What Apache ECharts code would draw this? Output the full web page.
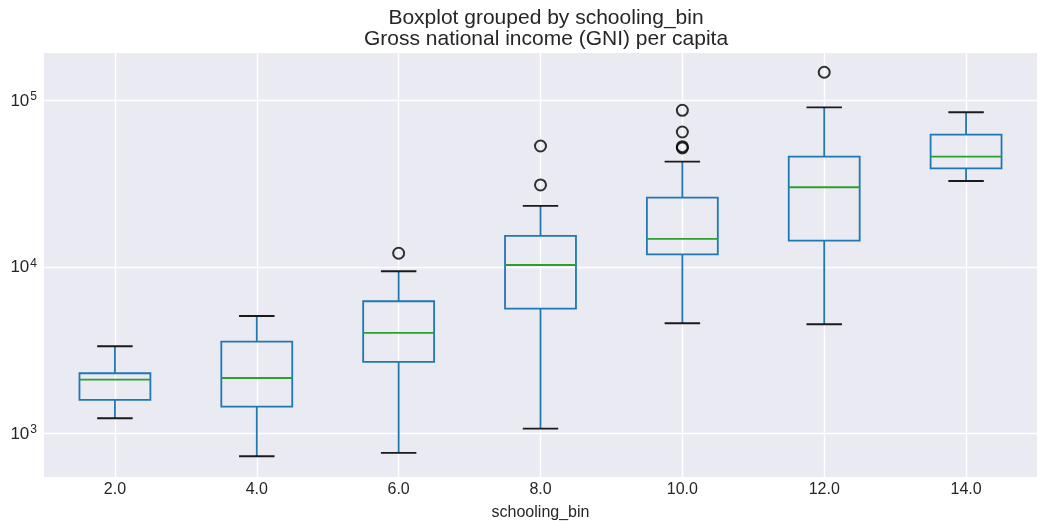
<!DOCTYPE html>
<html>
<head>
<meta charset="utf-8">
<script src="https://cdn.jsdelivr.net/npm/echarts@6/dist/echarts.min.js"></script>
<style>
  html, body { margin: 0; padding: 0; background: #ffffff; }
  #chart { width: 1039px; height: 521px; }
</style>
</head>
<body>
<div id="chart"></div>
<script>
// Schooling bins (mean years of schooling) on the x axis
const categories = ['2.0', '4.0', '6.0', '8.0', '10.0', '12.0', '14.0'];

// Box statistics per bin: GNI per capita (log scale)
const whiskerLow  = [1235,  731,  765,  1070,  4585,  4522, 32690];
const quartile1   = [1590, 1450, 2687,  5609, 11880, 14340, 38950];
const medians     = [2107, 2154, 4011, 10250, 14680, 29970, 45730];
const quartile3   = [2299, 3556, 6213, 15300, 25960, 45730, 61940];
const whiskerHigh = [3337, 5070, 9398, 23150, 42670, 90420, 84410];

// Outliers beyond the whiskers, as [bin index, value]
const outlierBins   = [2, 3, 3, 4, 4, 4, 4, 5];
const outlierValues = [12050, 52990, 30940, 86750, 64280, 52500, 51550, 146600];

// y axis range and tick labels (powers of ten)
const yMin = 549;
const yMax = 191300;
const yTickExponents = [3, 4, 5];

const boxData = categories.map((c, i) => [i, whiskerLow[i], quartile1[i], medians[i], quartile3[i], whiskerHigh[i]]);
const outlierData = outlierBins.map((b, i) => [b, outlierValues[i]]);

const BLUE = '#1f77b4';
const GREEN = '#2ca02c';
const CAP = '#1a1a1a';
const TEXT = '#262626';
const FONT = 'Liberation Sans, Arial, sans-serif';

// One box per bin: whiskers, box, median and short caps
function renderBox(params, api) {
  const idx = api.value(0);
  const pLow = api.coord([idx, api.value(1)]);
  const pQ1 = api.coord([idx, api.value(2)]);
  const pMed = api.coord([idx, api.value(3)]);
  const pQ3 = api.coord([idx, api.value(4)]);
  const pHigh = api.coord([idx, api.value(5)]);
  const band = api.size([1, 0])[0];
  const halfBox = band * 0.25;
  const halfCap = band * 0.125;
  const x = pMed[0];
  const lw = 1.8;
  return {
    type: 'group',
    children: [
      { type: 'line', shape: { x1: x, y1: pQ1[1], x2: x, y2: pLow[1] }, style: { stroke: BLUE, lineWidth: lw } },
      { type: 'line', shape: { x1: x, y1: pQ3[1], x2: x, y2: pHigh[1] }, style: { stroke: BLUE, lineWidth: lw } },
      { type: 'rect', shape: { x: x - halfBox, y: pQ3[1], width: halfBox * 2, height: pQ1[1] - pQ3[1] },
        style: { fill: 'none', stroke: BLUE, lineWidth: lw } },
      { type: 'line', shape: { x1: x - halfBox, y1: pMed[1], x2: x + halfBox, y2: pMed[1] }, style: { stroke: GREEN, lineWidth: lw } },
      { type: 'line', shape: { x1: x - halfCap, y1: pLow[1], x2: x + halfCap, y2: pLow[1] }, style: { stroke: CAP, lineWidth: lw } },
      { type: 'line', shape: { x1: x - halfCap, y1: pHigh[1], x2: x + halfCap, y2: pHigh[1] }, style: { stroke: CAP, lineWidth: lw } }
    ]
  };
}

const chart = echarts.init(document.getElementById('chart'), null, { renderer: 'canvas' });
chart.setOption({
  backgroundColor: '#ffffff',
  animation: false,
  textStyle: { fontFamily: FONT, color: TEXT },
  title: {
    text: 'Boxplot grouped by schooling_bin\nGross national income (GNI) per capita',
    left: 541,
    top: 3,
    textAlign: 'center',
    textStyle: { fontSize: 21, fontWeight: 'normal', color: TEXT, lineHeight: 21, fontFamily: FONT }
  },
  grid: { left: 44, right: 2, top: 53, bottom: 44, containLabel: false, outerBoundsMode: 'none',
          show: true, backgroundColor: '#eaeaf2', borderWidth: 0 },
  xAxis: {
    type: 'category',
    data: categories,
    boundaryGap: true,
    name: 'schooling_bin',
    nameLocation: 'middle',
    nameGap: 28,
    nameTextStyle: { fontSize: 16, color: TEXT, fontFamily: FONT },
    axisLine: { show: false },
    axisTick: { show: false, alignWithLabel: true },
    axisLabel: { fontSize: 16, color: TEXT, margin: 5, interval: 0, fontFamily: FONT },
    splitLine: { show: true, interval: 0, alignWithLabel: true, lineStyle: { color: '#ffffff', width: 1.4 } }
  },
  yAxis: {
    type: 'log',
    logBase: 10,
    min: yMin,
    max: yMax,
    axisLine: { show: false },
    axisTick: { show: false },
    splitLine: { show: true, showMinLine: false, showMaxLine: false, lineStyle: { color: '#ffffff', width: 1.4 } },
    axisLabel: {
      margin: 7,
      showMinLabel: false,
      showMaxLabel: false,
      formatter: function (v) {
        const e = Math.round(Math.log10(v));
        if (yTickExponents.indexOf(e) < 0 || Math.abs(Math.log10(v) - e) > 1e-6) return '';
        return '{b|10}{s|' + e + '}';
      },
      rich: {
        b: { fontSize: 17, color: TEXT, fontFamily: FONT, verticalAlign: 'bottom', lineHeight: 19, padding: [4, 0, 0, 0] },
        s: { fontSize: 12, color: TEXT, fontFamily: FONT, verticalAlign: 'top', lineHeight: 12, padding: [0, 0, 12, 1] }
      }
    }
  },
  series: [
    {
      type: 'custom',
      renderItem: renderBox,
      encode: { x: 0, y: [1, 2, 3, 4, 5] },
      data: boxData,
      z: 3
    },
    {
      type: 'scatter',
      data: outlierData,
      symbol: 'circle',
      symbolSize: 11,
      itemStyle: { color: 'rgba(0,0,0,0)', borderColor: '#000000', borderWidth: 2 },
      z: 4
    }
  ]
});
</script>
</body>
</html>
